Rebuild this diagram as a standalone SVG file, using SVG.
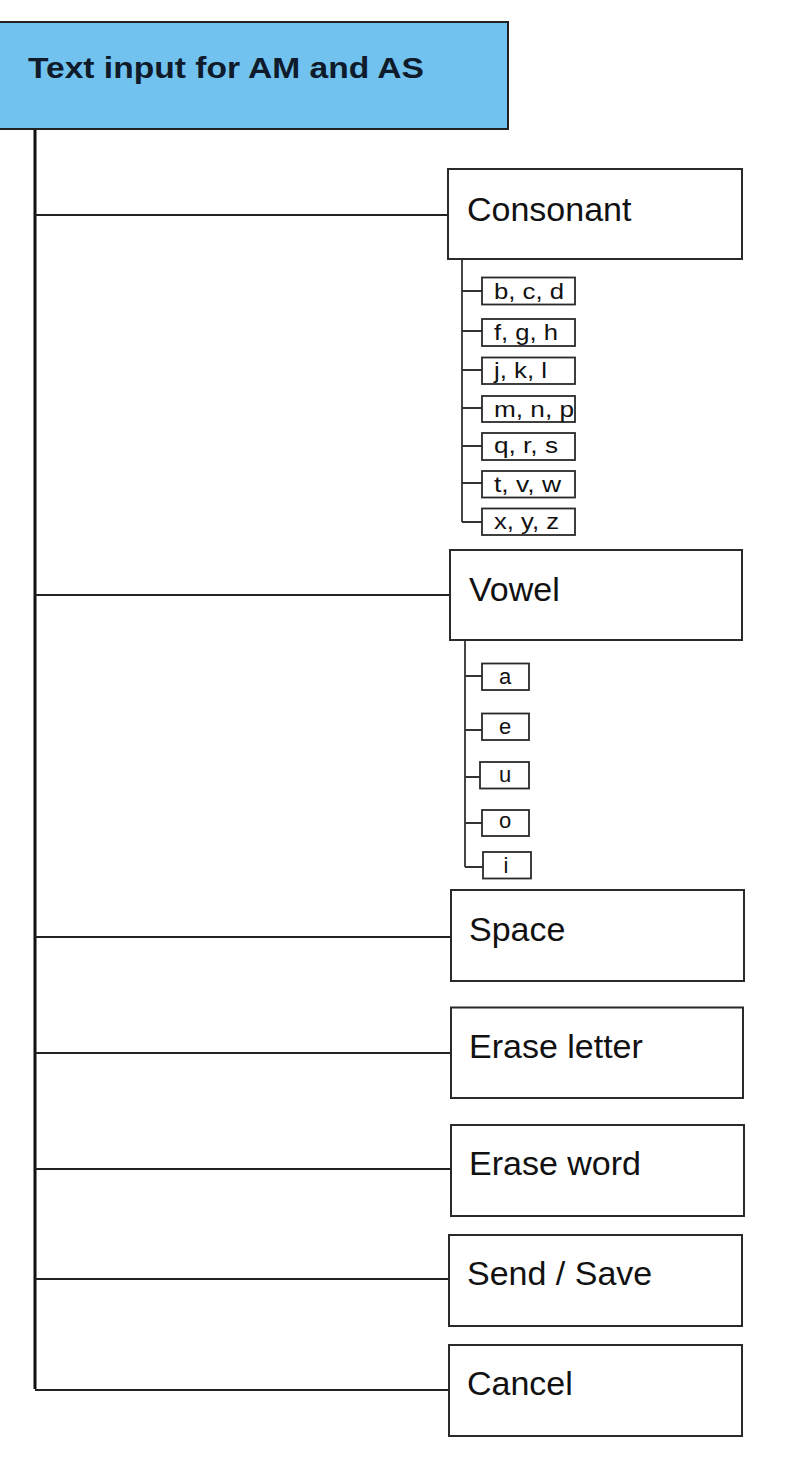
<svg xmlns="http://www.w3.org/2000/svg" width="800" height="1473" viewBox="0 0 800 1473">
<style>
.box{fill:#fff;stroke:#2a2a2a;stroke-width:2}
.sub{fill:#fff;stroke:#2a2a2a;stroke-width:1.8}
.lbl{font-family:"Liberation Sans",Arial,sans-serif;font-size:34px;fill:#111}
.sl{font-family:"Liberation Sans",Arial,sans-serif;font-size:22px;fill:#111}
.vl{font-family:"Liberation Sans",Arial,sans-serif;font-size:22px;fill:#111;text-anchor:middle}
.ttl{font-family:"Liberation Sans",Arial,sans-serif;font-size:30px;font-weight:bold;fill:#0f1a2a}
.c{stroke:#222;stroke-width:2;fill:none}
.cm{stroke:#111;stroke-width:3;fill:none}
.cs{stroke:#333;stroke-width:1.8;fill:none}
</style>
<rect width="800" height="1473" fill="#fff"/>
<g id="connectors">
<path class="cm" d="M35,129 V1389"/>
<path class="c" d="M35,215 H448 M35,595 H450 M35,937 H451 M35,1053 H451 M35,1169 H451 M35,1279 H449 M35,1390 H449"/>
<path class="cs" d="M462,259 V522 M462,291 H482 M462,331 H482 M462,370 H482 M462,408 H482 M462,446 H482 M462,483 H482 M462,522 H482"/>
<path class="cs" d="M465,640 V867 M465,676 H482 M465,730 H482 M465,777 H480 M465,823 H482 M465,867 H483"/>
</g>
<g id="root">
<rect x="-2" y="22" width="510" height="107" fill="#71c2ef" stroke="#222" stroke-width="2"/>
<text class="ttl" x="28" y="78" textLength="396" lengthAdjust="spacingAndGlyphs">Text input for AM and AS</text>
</g>
<g id="consonant">
<rect class="box" x="448" y="169" width="294" height="90"/>
<text class="lbl" x="467" y="221">Consonant</text>
</g>
<g id="bcd"><rect class="sub" x="482" y="277.5" width="93" height="27"/><text class="sl" x="494" y="298.5" textLength="70" lengthAdjust="spacingAndGlyphs">b, c, d</text></g>
<g id="fgh"><rect class="sub" x="482" y="319" width="93" height="27"/><text class="sl" x="494" y="340" textLength="64" lengthAdjust="spacingAndGlyphs">f, g, h</text></g>
<g id="jkl"><rect class="sub" x="482" y="357.5" width="93" height="26.5"/><text class="sl" x="494" y="378" textLength="53" lengthAdjust="spacingAndGlyphs">j, k, l</text></g>
<g id="mnp"><rect class="sub" x="482" y="396" width="93" height="26"/><text class="sl" x="494" y="416.5" textLength="80" lengthAdjust="spacingAndGlyphs">m, n, p</text></g>
<g id="qrs"><rect class="sub" x="482" y="433" width="93" height="27"/><text class="sl" x="494" y="453" textLength="64" lengthAdjust="spacingAndGlyphs">q, r, s</text></g>
<g id="tvw"><rect class="sub" x="482" y="471" width="93" height="26.5"/><text class="sl" x="494" y="491.5" textLength="67" lengthAdjust="spacingAndGlyphs">t, v, w</text></g>
<g id="xyz"><rect class="sub" x="482" y="508.5" width="93" height="26.5"/><text class="sl" x="494" y="529" textLength="65" lengthAdjust="spacingAndGlyphs">x, y, z</text></g>
<g id="vowel">
<rect class="box" x="450" y="550" width="292" height="90"/>
<text class="lbl" x="469" y="601">Vowel</text>
</g>
<g id="va"><rect class="sub" x="482" y="663.5" width="47" height="26.5"/><text class="vl" x="505" y="684">a</text></g>
<g id="ve"><rect class="sub" x="482" y="713.5" width="47" height="26.5"/><text class="vl" x="505" y="734">e</text></g>
<g id="vu"><rect class="sub" x="480" y="762" width="49" height="26.5"/><text class="vl" x="505" y="782">u</text></g>
<g id="vo"><rect class="sub" x="482" y="810" width="47" height="26"/><text class="vl" x="505" y="828">o</text></g>
<g id="vi"><rect class="sub" x="483" y="852" width="48" height="26.5"/><text class="vl" x="506" y="873">i</text></g>
<g id="space">
<rect class="box" x="451" y="890" width="293" height="91"/>
<text class="lbl" x="469" y="941">Space</text>
</g>
<g id="erase-letter">
<rect class="box" x="451" y="1007.5" width="292" height="90.5"/>
<text class="lbl" x="469" y="1058">Erase letter</text>
</g>
<g id="erase-word">
<rect class="box" x="451" y="1125" width="293" height="91"/>
<text class="lbl" x="469" y="1175">Erase word</text>
</g>
<g id="send-save">
<rect class="box" x="449" y="1235" width="293" height="91"/>
<text class="lbl" x="467" y="1285">Send / Save</text>
</g>
<g id="cancel">
<rect class="box" x="449" y="1345" width="293" height="91"/>
<text class="lbl" x="467" y="1395">Cancel</text>
</g>
</svg>
